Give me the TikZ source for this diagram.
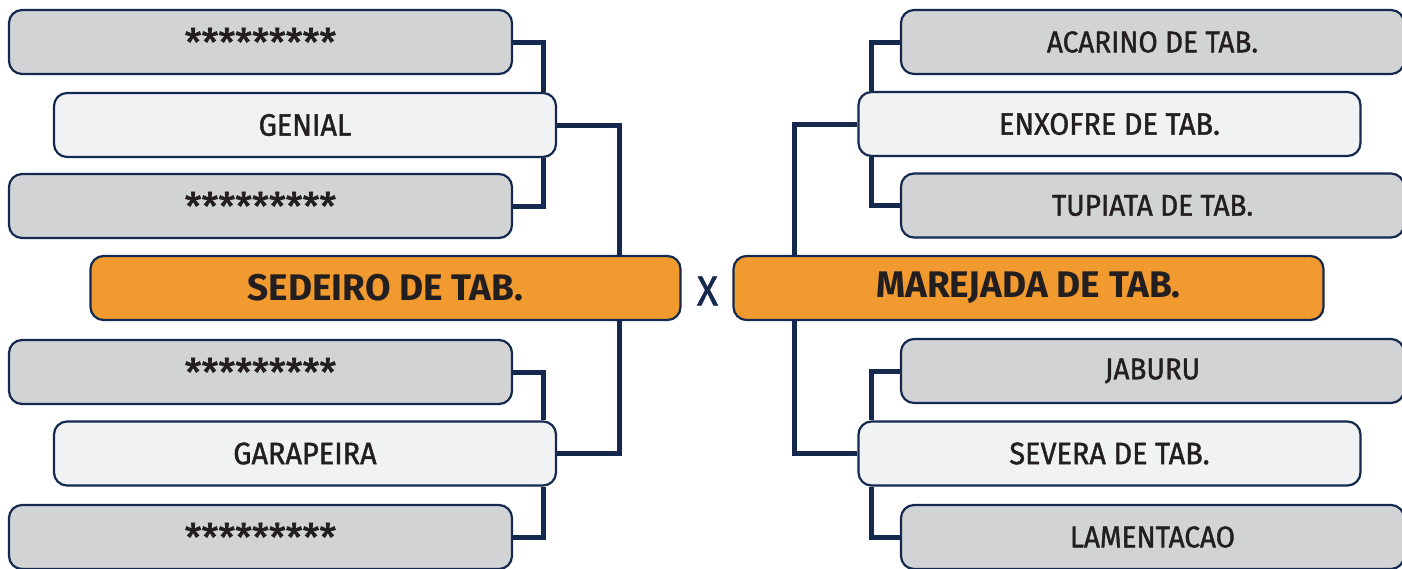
\documentclass[tikz,border=0pt]{standalone}
\usepackage{fontspec}
\setmainfont{Fira Sans}
\newfontfamily\namefont[FakeStretch=0.93,FakeBold=1.3]{Fira Sans}
\newfontfamily\finalfont[FakeStretch=1.0]{Fira Sans}
\newfontfamily\starfont[FakeBold=2]{Fira Sans}
\usepackage{tikz}

\definecolor{navy}{HTML}{15294F}
\definecolor{seedgray}{HTML}{D1D3D4}
\definecolor{pickwhite}{HTML}{F1F2F4}
\definecolor{finalorange}{HTML}{F19A30}
\definecolor{ink}{HTML}{231F20}

\tikzset{
  team/.style = {draw = navy, line width = 2.2pt, rounded corners = 13pt,
    minimum height = 64pt, inner sep = 0pt, text = ink},
  seedbox/.style = {team, fill = seedgray, minimum width = 503pt,
    font = \namefont\fontsize{30}{30}\selectfont},
  pickbox/.style = {team, fill = pickwhite, minimum width = 502pt,
    font = \namefont\fontsize{31}{31}\selectfont},
  finalbox/.style = {team, fill = finalorange, minimum width = 590pt,
    font = \finalfont\fontsize{37}{37}\selectfont\bfseries},
  link/.style = {draw = navy, line width = 5pt}
}

\newcommand{\stars}{\raisebox{-.34em}{\starfont\fontsize{38}{38}\selectfont *********}}

\begin{document}
\begin{tikzpicture}
      [x = 1pt, y = -1pt]
      \useasboundingbox (0,0) rectangle (1402,568);
      % left bracket
      \node[seedbox] (s1) at (260.5, 42) {\stars};
      \node[pickbox] (gen) at (305, 125) {GENIAL};
      \node[seedbox] (s2) at (260.5, 206) {\stars};
      \node[finalbox] (sed) at (385.5, 288) {SEDEIRO DE TAB.};
      \node[seedbox] (s3) at (260.5, 372) {\stars};
      \node[pickbox] (gar) at (305, 453.5) {GARAPEIRA};
      \node[seedbox] (s4) at (260.5, 537) {\stars};
      % right bracket
      \node[seedbox] (aca) at (1152.5, 42) {ACARINO DE TAB.};
      \node[pickbox] (enx) at (1109.5, 124) {ENXOFRE DE TAB.};
      \node[seedbox] (tup) at (1152.5, 205.5) {TUPIATA DE TAB.};
      \node[finalbox] (mar) at (1028.5, 288) {MAREJADA DE TAB.};
      \node[seedbox] (jab) at (1152.5, 371) {JABURU};
      \node[pickbox] (sev) at (1109.5, 453.5) {SEVERA DE TAB.};
      \node[seedbox] (lam) at (1152.5, 537) {LAMENTACAO};
      \node[text = navy, font = \namefont\fontsize{42}{42}\selectfont] (vs) at (707.5, 291) {X};
      \coordinate (lj) at (543, 0);
      \coordinate (lk) at (619, 0);
      \coordinate (rj) at (871, 0);
      \coordinate (rk) at (794, 0);
      \draw[link] (s1.east) -| (lj |- gen.north);
      \draw[link] (s2.east) -| (lj |- gen.south);
      \draw[link] (s3.east) -| (lj |- gar.north);
      \draw[link] (s4.east) -| (lj |- gar.south);
      \draw[link] (gen.east) -| (lk |- sed.north);
      \draw[link] (lk |- sed.south) |- (gar.east);
      \draw[link] (aca.west) -| (rj |- enx.north);
      \draw[link] (tup.west) -| (rj |- enx.south);
      \draw[link] (jab.west) -| (rj |- sev.north);
      \draw[link] (lam.west) -| (rj |- sev.south);
      \draw[link] (enx.west) -| (rk |- mar.north);
      \draw[link] (rk |- mar.south) |- (sev.west);
      \end{tikzpicture}
\end{document}
